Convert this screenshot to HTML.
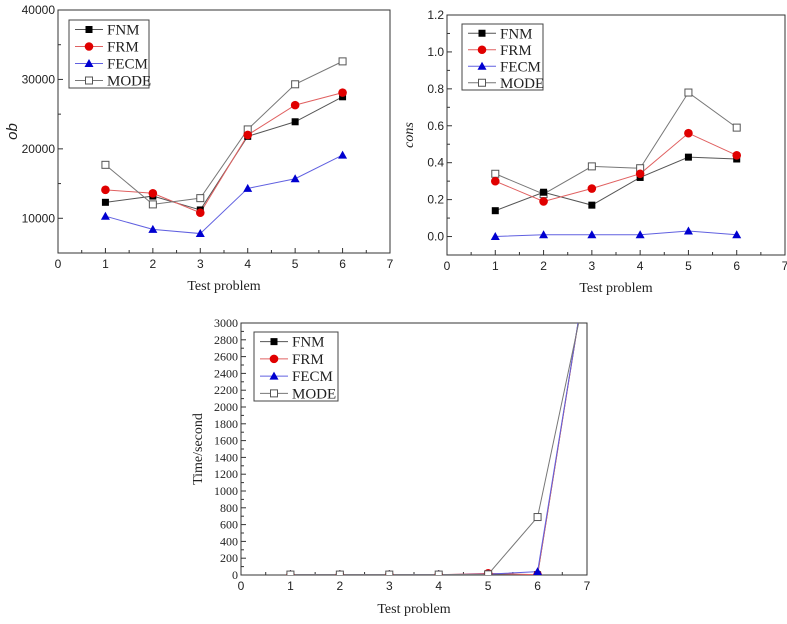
<!DOCTYPE html>
<html><head><meta charset="utf-8">
<style>
body{margin:0;background:#fff;width:787px;height:624px;overflow:hidden;font-family:"Liberation Serif",serif;}
svg{position:absolute;left:0;top:0}
text{font-family:"Liberation Serif",serif;fill:#222}
text.tick{font-family:"Liberation Sans",sans-serif}
</style></head>
<body>
<svg id="svg" width="787" height="624"></svg>
<script>
const categories=[1,2,3,4,5,6];
const seriesNames=["FNM","FRM","FECM","MODE"];
// chart 1: ob
const obFNM=[12300,13200,11200,21800,23900,27500];
const obFRM=[14100,13600,10800,22000,26300,28100];
const obFECM=[10300,8400,7800,14300,15700,19100];
const obMODE=[17700,12000,12900,22800,29300,32600];
const obTicks=[10000,20000,30000,40000];
// chart 2: cons
const consFNM=[0.14,0.24,0.17,0.32,0.43,0.42];
const consFRM=[0.30,0.19,0.26,0.34,0.56,0.44];
const consFECM=[0.00,0.01,0.01,0.01,0.03,0.01];
const consMODE=[0.34,0.23,0.38,0.37,0.78,0.59];
const consTicks=[0.0,0.2,0.4,0.6,0.8,1.0,1.2];
// chart 3: time
const timeCategories=[1,2,3,4,5,6,7];
const timeFNM=[3,3,3,3,8,3,3660];
const timeFRM=[3,3,3,3,20,3,3660];
const timeFECM=[3,3,3,5,10,40,3660];
const timeMODE=[5,5,5,5,8,690,3470];
const timeTicks=[0,200,400,600,800,1000,1200,1400,1600,1800,2000,2200,2400,2600,2800,3000];
const xTicks=[0,1,2,3,4,5,6,7];

const NS="http://www.w3.org/2000/svg";
const svg=document.getElementById('svg');
function mk(tag,attrs,parent){const e=document.createElementNS(NS,tag);for(const k in attrs)e.setAttribute(k,attrs[k]);(parent||svg).appendChild(e);return e;}
const lineColors={FNM:"#555",FRM:"#e06060",FECM:"#6060e0",MODE:"#777"};
function marker(g,name,x,y,s){
  let m;
  if(name==="FNM")m=mk('rect',{x:x-s,y:y-s,width:2*s,height:2*s,fill:"#000"},g);
  else if(name==="FRM")m=mk('circle',{cx:x,cy:y,r:s+0.8,fill:"#e00000"},g);
  else if(name==="FECM")m=mk('polygon',{points:`${x},${y-s-1} ${x-s-1},${y+s} ${x+s+1},${y+s}`,fill:"#0000d0"},g);
  else m=mk('rect',{x:x-s,y:y-s,width:2*s,height:2*s,fill:"#fff",stroke:"#555","stroke-width":1},g);
  return m;
}
function chart(o){
  const g=mk('g',{});
  
  
  const X=v=>o.L+(v-0)/(7-0)*(o.R-o.L);
  const Y=v=>o.B-(v-o.ymin)/(o.ymax-o.ymin)*(o.B-o.T);
  const cid='clip'+o.name;
  const cp=mk('clipPath',{id:cid},g);mk('rect',{x:o.L,y:o.T,width:o.R-o.L,height:o.B-o.T},cp);
  const fr=mk('rect',{x:o.L,y:o.T,width:o.R-o.L,height:o.B-o.T,fill:"none",stroke:"#333","stroke-width":1},g);
  
  xTicks.forEach((t,i)=>{
    mk('line',{x1:X(t),x2:X(t),y1:o.B,y2:o.B-5,stroke:"#333"},g);
    if(i<7)mk('line',{x1:X(t+0.5),x2:X(t+0.5),y1:o.B,y2:o.B-3,stroke:"#333"},g);
    const tx=mk('text',{x:X(t),y:o.B+15,"text-anchor":"middle","font-size":o.tfs,class:"tick"},g);tx.textContent=t;
    
  });
  o.yticks.forEach((t,i)=>{
    mk('line',{x1:o.L,x2:o.L+5,y1:Y(t),y2:Y(t),stroke:"#333"},g);
    const tx=mk('text',{x:o.L-3,y:Y(t)+4,"text-anchor":"end","font-size":o.tfs,class:o.ytickSerif?"":"tick"},g);tx.textContent=o.fmt(t);
    
  });
  o.minor.forEach(t=>{if(Y(t)>=o.T&&Y(t)<=o.B)mk('line',{x1:o.L,x2:o.L+3,y1:Y(t),y2:Y(t),stroke:"#333"},g);});
  const xt=mk('text',{x:(o.L+o.R)/2,y:o.xty,"text-anchor":"middle","font-size":14},g);xt.textContent="Test problem";
  
  const yt=mk('text',{x:o.ytx,y:(o.T+o.B)/2,"text-anchor":"middle","font-size":o.ytfs||14,"font-style":o.yit?"italic":"normal",class:o.ytSans?"tick":"",transform:`rotate(-90 ${o.ytx} ${(o.T+o.B)/2})`},g);
  yt.textContent=o.ytitle;
  const pg=mk('g',{"clip-path":`url(#${cid})`},g);
  o.series.forEach((vals,si)=>{
    const n=seriesNames[si];
    const pts=vals.map((v,i)=>`${X(o.cats[i])},${Y(v)}`).join(' ');
    const pl=mk('polyline',{points:pts,fill:"none",stroke:lineColors[n],"stroke-width":1},pg);
    
  });
  o.order.forEach(si=>{
    const n=seriesNames[si];
    o.series[si].forEach((v,i)=>{if(o.cats[i]<=6){const m=marker(pg,n,X(o.cats[i]),Y(v),o.ms);
      }});
  });
  const lg=mk('g',{},g);
  mk('rect',{x:o.lx,y:o.ly,width:o.lw,height:o.lh,fill:"#fff",stroke:"#444"},lg);
  seriesNames.forEach((n,i)=>{
    const yy=o.ly+o.lh*(i+0.5)/4+1;
    mk('line',{x1:o.lx+6,x2:o.lx+34,y1:yy,y2:yy,stroke:lineColors[n]},lg);
    marker(lg,n,o.lx+20,yy,3.5);
    const t=mk('text',{x:o.lx+38,y:yy+5,"font-size":15},lg);t.textContent=n;
    
  });
}
chart({name:'ob-chart',L:58,R:390,T:10,B:253,ymin:5000,ymax:40000,yticks:obTicks,minor:[5000,15000,25000,35000],fmt:v=>v,
  cats:categories,series:[obFNM,obFRM,obFECM,obMODE],order:[3,0,1,2],xty:290,ytx:17,ytitle:"ob",yit:true,ytSans:true,ytfs:15,tfs:12,ms:3.5,lx:69,ly:20,lw:80,lh:68});
chart({name:'cons-chart',L:447,R:785,T:15,B:255,ymin:-0.1,ymax:1.2,yticks:consTicks,minor:[-0.1,0.1,0.3,0.5,0.7,0.9,1.1],fmt:v=>v.toFixed(1),
  cats:categories,series:[consFNM,consFRM,consFECM,consMODE],order:[3,0,1,2],xty:292,ytx:413,ytitle:"cons",yit:true,tfs:12,ms:3.5,lx:462,ly:24,lw:81,lh:66});
chart({name:'time-chart',L:241,R:587,T:323,B:575,ymin:0,ymax:3000,yticks:timeTicks,minor:timeTicks.map(t=>t+100),fmt:v=>v,ytickSerif:true,
  cats:timeCategories,series:[timeFNM,timeFRM,timeFECM,timeMODE],order:[0,1,2,3],xty:613,ytx:202,ytitle:"Time/second",yit:false,tfs:12,ms:3.5,lx:254,ly:332,lw:84,lh:69});
</script>
</body></html>
